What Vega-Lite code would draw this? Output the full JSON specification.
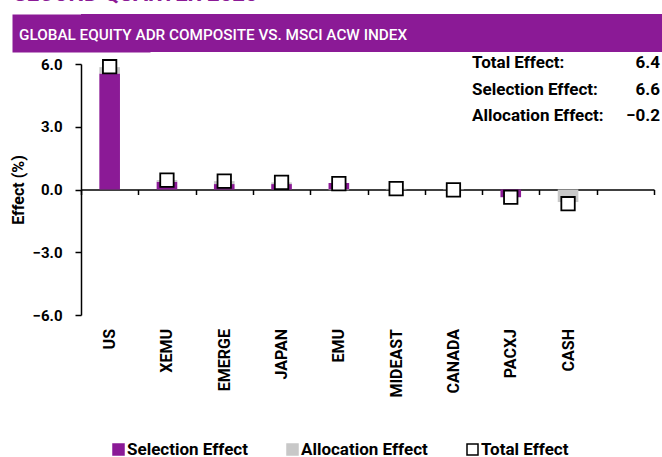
{
  "$schema": "https://vega.github.io/schema/vega-lite/v6.json",
  "padding": {"left": 10, "right": 0, "top": -17, "bottom": 0},
  "background": "white",
  "title": {"text": "SECOND QUARTER 2020", "anchor": "start", "color": "#8B1A96", "font": "Roboto", "fontSize": 22, "fontWeight": "bold", "offset": 8, "dx": 3, "letterSpacing": 1},
  "config": {
    "view": {"stroke": null},
    "font": "Roboto",
    "text": {"font": "Roboto"}
  },
  "spacing": 2,
  "vconcat": [
    {
      "width": 583,
      "height": 38,
      "data": {"values": [{}]},
      "layer": [
        {"mark": {"type": "rect", "color": "#8B1A96"}, "encoding": {}},
        {
          "mark": {"type": "rule", "opacity": 0},
          "encoding": {
            "y": {
              "datum": 0, "type": "quantitative",
              "scale": {"domain": [0, 1]},
              "axis": {"title": null, "labels": false, "ticks": false, "grid": false, "domainColor": "#8B1A96", "domainWidth": 138, "domainCap": "butt"}
            }
          }
        }
      ],
      "title": {"text": "GLOBAL EQUITY ADR COMPOSITE VS. MSCI ACW INDEX", "anchor": "start", "frame": "group", "offset": -29, "dx": -62, "color": "white", "fontSize": 15.3, "font": "Roboto", "fontWeight": 500}
    },
    {
      "width": 573,
      "height": 251,
      "data": {"values": [
        {"region": "US", "series": "Selection Effect", "value": 5.55},
        {"region": "US", "series": "Allocation Effect", "value": 0.3},
        {"region": "US", "series": "Total Effect", "value": 5.87},
        {"region": "XEMU", "series": "Selection Effect", "value": 0.37},
        {"region": "XEMU", "series": "Allocation Effect", "value": 0.08},
        {"region": "XEMU", "series": "Total Effect", "value": 0.45},
        {"region": "EMERGE", "series": "Selection Effect", "value": 0.26},
        {"region": "EMERGE", "series": "Allocation Effect", "value": 0.14},
        {"region": "EMERGE", "series": "Total Effect", "value": 0.4},
        {"region": "JAPAN", "series": "Selection Effect", "value": 0.26},
        {"region": "JAPAN", "series": "Allocation Effect", "value": 0.08},
        {"region": "JAPAN", "series": "Total Effect", "value": 0.34},
        {"region": "EMU", "series": "Selection Effect", "value": 0.31},
        {"region": "EMU", "series": "Allocation Effect", "value": -0.03},
        {"region": "EMU", "series": "Total Effect", "value": 0.28},
        {"region": "MIDEAST", "series": "Selection Effect", "value": 0.0},
        {"region": "MIDEAST", "series": "Allocation Effect", "value": 0.04},
        {"region": "MIDEAST", "series": "Total Effect", "value": 0.04},
        {"region": "CANADA", "series": "Selection Effect", "value": 0.0},
        {"region": "CANADA", "series": "Allocation Effect", "value": -0.02},
        {"region": "CANADA", "series": "Total Effect", "value": -0.02},
        {"region": "PACXJ", "series": "Selection Effect", "value": -0.37},
        {"region": "PACXJ", "series": "Allocation Effect", "value": 0.0},
        {"region": "PACXJ", "series": "Total Effect", "value": -0.37},
        {"region": "CASH", "series": "Selection Effect", "value": 0.0},
        {"region": "CASH", "series": "Allocation Effect", "value": -0.6},
        {"region": "CASH", "series": "Total Effect", "value": -0.68}
      ]},
      "encoding": {
        "x": {
          "field": "region",
          "type": "nominal",
          "scale": {"domain": ["US", "XEMU", "EMERGE", "JAPAN", "EMU", "MIDEAST", "CANADA", "PACXJ", "CASH", " "], "paddingInner": 0, "paddingOuter": 0},
          "axis": {
            "title": null, "orient": "bottom", "offset": -125.5,
            "domainColor": "black", "domainWidth": 1.5,
            "tickColor": "black", "tickWidth": 1.5, "tickSize": 5, "tickBand": "extent",
            "labelAngle": -90, "labelPadding": 134, "labelFontSize": 16, "labelFontWeight": "bold", "labelColor": "black", "labelFont": "Roboto"
          }
        }
      },
      "layer": [
        {
          "transform": [{"filter": "datum.series !== 'Total Effect'"}],
          "mark": {"type": "bar", "width": {"band": 0.36}, "strokeWidth": 0},
          "encoding": {
            "y": {
              "field": "value", "type": "quantitative", "stack": "zero",
              "scale": {"domain": [-6, 6], "nice": false},
              "axis": {
                "title": "Effect (%)", "values": [-6, -3, 0, 3, 6], "format": ".1f", "grid": false,
                "domainColor": "black", "domainWidth": 1.5, "tickColor": "black", "tickWidth": 1.5, "tickSize": 6,
                "labelPadding": 13, "labelFontSize": 15, "labelFontWeight": "bold", "labelColor": "black", "labelFont": "Roboto",
                "titleFontSize": 16, "titleFontWeight": "bold", "titleColor": "black", "titlePadding": 6, "titleFont": "Roboto"
              }
            },
            "fill": {
              "field": "series", "type": "nominal",
              "scale": {"domain": ["Selection Effect", "Allocation Effect", "Total Effect"], "range": ["#8B1A96", "#C8C8C8", "#FFFFFF"]},
              "legend": {
                "title": null, "orient": "none", "legendX": 29, "legendY": 427, "direction": "horizontal",
                "symbolType": "square", "symbolSize": 121, "symbolStrokeWidth": 1.5,
                "labelFontSize": 17, "labelFontWeight": "bold", "labelColor": "black", "labelFont": "Roboto",
                "labelOffset": 0, "columnPadding": 36
              }
            },
            "stroke": {
              "field": "series", "type": "nominal",
              "scale": {"domain": ["Selection Effect", "Allocation Effect", "Total Effect"], "range": ["#8B1A96", "#C8C8C8", "#000000"]},
              "legend": {
                "title": null, "orient": "none", "legendX": 29, "legendY": 427, "direction": "horizontal",
                "symbolType": "square", "symbolSize": 121, "symbolStrokeWidth": 1.5,
                "labelFontSize": 17, "labelFontWeight": "bold", "labelColor": "black", "labelFont": "Roboto",
                "labelOffset": 0, "columnPadding": 36
              }
            },
            "order": {"field": "series", "sort": "descending"}
          }
        },
        {
          "transform": [{"filter": "datum.series === 'Total Effect'"}],
          "mark": {"type": "point", "shape": "square", "filled": true, "size": 180, "strokeWidth": 1.8, "opacity": 1},
          "encoding": {
            "y": {"field": "value", "type": "quantitative"},
            "fill": {"field": "series", "type": "nominal"},
            "stroke": {"field": "series", "type": "nominal"}
          }
        },
        {
          "data": {"values": [
            {"label": "Total Effect:", "value": 6.4},
            {"label": "Selection Effect:", "value": 6.6},
            {"label": "Allocation Effect:", "value": -0.2}
          ]},
          "layer": [
            {
              "mark": {"type": "text", "align": "left", "baseline": "alphabetic", "dx": -10, "dy": 4, "fontSize": 17, "fontWeight": "bold", "color": "black", "font": "Roboto"},
              "encoding": {
                "x": {"datum": "PACXJ", "bandPosition": 0},
                "y": {"datum": 6},
                "yOffset": {"field": "label", "type": "nominal", "scale": {"type": "point", "padding": 0, "domain": ["Total Effect:", "Selection Effect:", "Allocation Effect:"], "range": [0, 53]}},
                "text": {"field": "label"}
              }
            },
            {
              "mark": {"type": "text", "align": "right", "baseline": "alphabetic", "dx": 6, "dy": 4, "fontSize": 17, "fontWeight": "bold", "color": "black", "font": "Roboto"},
              "encoding": {
                "x": {"datum": " ", "bandPosition": 1},
                "y": {"datum": 6},
                "yOffset": {"field": "label", "type": "nominal", "scale": {"type": "point", "padding": 0, "domain": ["Total Effect:", "Selection Effect:", "Allocation Effect:"], "range": [0, 53]}},
                "text": {"field": "value", "format": ".1f"}
              }
            }
          ]
        }
      ]
    }
  ]
}
